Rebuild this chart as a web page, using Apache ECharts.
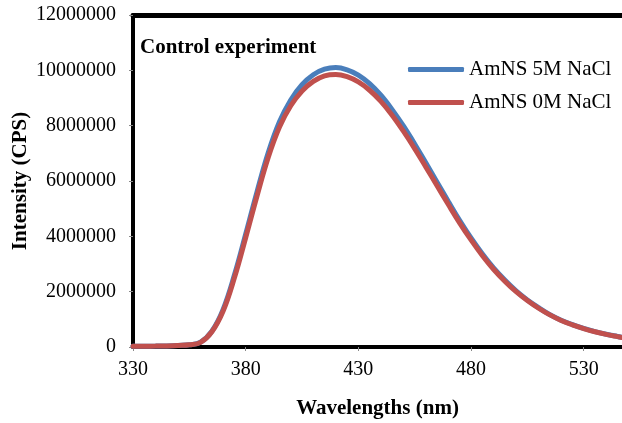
<!DOCTYPE html>
<html>
<head>
<meta charset="utf-8">
<script src="https://cdn.jsdelivr.net/npm/echarts@6/dist/echarts.min.js"></script>
<style>html,body{margin:0;padding:0;background:#fff}#c{width:622px;height:423px}</style>
</head>
<body>
<div id="c"></div>
<script>
const wavelengths = [330,335,340,345,350,355,360,365,370,375,380,385,390,395,400,405,410,415,420,425,430,435,440,445,450,455,460,465,470,475,480,485,490,495,500,505,510,515,520,525,530,535,540,545,547];
const amns5M = [30000,30000,32000,40000,55000,80000,175000,570000,1360000,2600000,4080000,5600000,7020000,8140000,8930000,9480000,9840000,10040000,10100000,10020000,9830000,9520000,9100000,8580000,7990000,7340000,6650000,5950000,5250000,4570000,3940000,3370000,2860000,2420000,2030000,1700000,1420000,1170000,970000,810000,670000,555000,460000,380000,350000];
const amns0M = [30000,30000,32000,40000,55000,80000,170000,550000,1300000,2500000,3950000,5450000,6850000,7950000,8720000,9250000,9600000,9800000,9850000,9770000,9580000,9280000,8880000,8380000,7800000,7170000,6500000,5820000,5140000,4480000,3870000,3310000,2810000,2380000,2000000,1680000,1400000,1160000,960000,800000,665000,550000,455000,375000,345000];
const seriesNames = ['AmNS 5M NaCl','AmNS 0M NaCl'];
const titleText = 'Control experiment';
const xName = 'Wavelengths (nm)';
const yName = 'Intensity (CPS)';

const font = 'Liberation Serif';
const chart = echarts.init(document.getElementById('c'), null, {renderer:'canvas'});
chart.setOption({
  animation:false,
  backgroundColor:'#fff',
  title:{text:titleText,left:140,top:37,padding:0,textStyle:{fontFamily:font,fontSize:21,fontWeight:'bold',color:'#000'}},
  legend:{orient:'vertical',left:408,top:59,padding:0,itemGap:12,itemWidth:56,itemHeight:5,icon:'roundRect',
    textStyle:{fontFamily:font,fontSize:21,color:'#000',lineHeight:21},
    data:seriesNames},
  grid:{left:133,right:0,top:15,bottom:76,containLabel:false,outerBoundsMode:'none'},
  xAxis:[{type:'value',min:330,max:547,interval:50,
    name:xName,nameLocation:'middle',nameGap:51,nameMoveOverlap:false,
    nameTextStyle:{fontFamily:font,fontSize:21,fontWeight:'bold',color:'#000'},
    axisLine:{lineStyle:{color:'#000',width:4}},
    axisTick:{show:true,length:4,inside:false,lineStyle:{color:'#888',width:1}},
    axisLabel:{fontFamily:font,fontSize:20,color:'#000',margin:13,showMaxLabel:false},
    splitLine:{show:false}},
    {type:'value',position:'top',min:330,max:547,
    axisLine:{show:true,onZero:false,lineStyle:{color:'#000',width:5}},
    axisTick:{show:false},axisLabel:{show:false},splitLine:{show:false}}],
  yAxis:{type:'value',min:0,max:12000000,interval:2000000,
    name:yName,nameLocation:'middle',nameGap:102,nameMoveOverlap:false,
    nameTextStyle:{fontFamily:font,fontSize:21,fontWeight:'bold',color:'#000'},
    axisLine:{show:true,lineStyle:{color:'#000',width:4}},
    axisTick:{show:true,length:4,lineStyle:{color:'#888',width:1}},
    axisLabel:{fontFamily:font,fontSize:20,color:'#000',margin:17,formatter:v=>String(v)},
    splitLine:{show:false}},
  series:[
    {name:seriesNames[0],type:'line',smooth:0.4,showSymbol:false,color:'#4A7EBB',
     lineStyle:{width:5,color:'#4A7EBB',cap:'round'},data:wavelengths.map((w,i)=>[w,amns5M[i]])},
    {name:seriesNames[1],type:'line',smooth:0.4,showSymbol:false,color:'#C0504D',
     lineStyle:{width:5,color:'#C0504D',cap:'round'},data:wavelengths.map((w,i)=>[w,amns0M[i]])}
  ]
});
</script>
</body>
</html>
